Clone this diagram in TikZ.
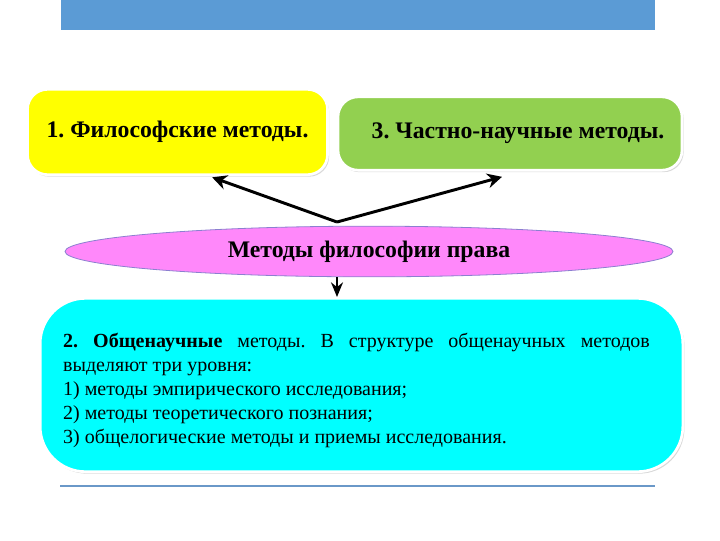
\documentclass[tikz,border=0pt]{standalone}
\usepackage{fontspec}
\setmainfont{Liberation Serif}
\usetikzlibrary{shapes.geometric, arrows.meta, shadows, calc}

\definecolor{barblue}{HTML}{5B9BD5}
\definecolor{lineblue}{HTML}{6A98C8}
\definecolor{boxyellow}{HTML}{FFFF00}
\definecolor{boxgreen}{HTML}{92D050}
\definecolor{boxcyan}{HTML}{00FFFF}
\definecolor{ovalpink}{HTML}{FF88FA}
\definecolor{ovalline}{HTML}{8C7FD0}

\begin{document}
\frenchspacing
\begin{tikzpicture}[x=0.75pt, y=0.75pt,
    every node/.style={font=\bfseries\fontsize{17.8}{21}\selectfont, inner sep=1pt},
    methodbox/.style={draw=white, line width=2pt, rounded corners=15pt,
        drop shadow={opacity=0.3, shadow xshift=1.2pt, shadow yshift=-1.5pt}},
    fatarrow/.style={-{Stealth[length=11pt, width=11pt]}, line width=2.2pt}]

    % 1. Рамка страницы и полосы
    \useasboundingbox (0,0) rectangle (720,-540);
    \fill[barblue] (61,0) rectangle (655,-30);
    \draw[lineblue, line width=1.6pt] (60,-486) -- (655,-486);

    % 2. Верхние блоки
    \node[methodbox, fill=boxyellow, minimum width=225pt, minimum height=64pt]
        (phil) at (177.5,-132) {1. Философские методы.};
    \node[methodbox, fill=boxgreen, minimum width=258pt, minimum height=55pt]
        (part) at (510,-133.5) {\hspace{12pt}3. Частно-научные методы.};

    % 3. Овал в центре
    \node[ellipse, draw=ovalline, line width=0.6pt, fill=ovalpink,
        minimum width=456pt, minimum height=38pt] (law) at (369,-251.5)
        {Методы философии права};

    % 4. Нижний блок с перечнем
    \node[methodbox, fill=boxcyan, rounded corners=34pt,
        minimum width=482pt, minimum height=130pt] (gen) at (361.5,-385) {};
    \node[text width=440pt, align=justify,
        font=\normalfont\fontsize{15}{18}\selectfont] (gentext) at (356.5,-390)
        {\textbf{2. Общенаучные} методы. В структуре общенаучных методов\linebreak
         выделяют три уровня:\\
         1) методы эмпирического исследования;\\
         2) методы теоретического познания;\\
         3) общелогические методы и приемы исследования.};

    % 5. Стрелки
    \coordinate (fork) at (337,-222);
    \draw[fatarrow] (fork) -- ([xshift=26pt, yshift=-1pt]phil.south);
    \draw[fatarrow] (fork) -- ([xshift=-6pt, yshift=-4pt]part.south);
    \draw[-{Stealth[length=11pt, width=9pt]}, line width=1.4pt]
        (fork |- law.south) -- (fork |- gen.north);

\end{tikzpicture}
\end{document}
